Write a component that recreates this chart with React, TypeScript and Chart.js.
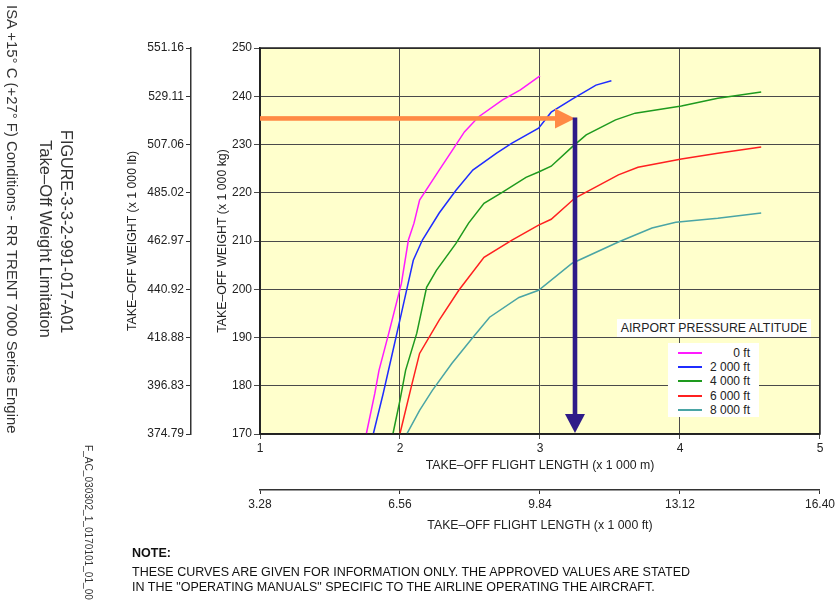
import React, { useEffect, useRef } from "react";
import { Chart, registerables } from "chart.js";

Chart.register(...registerables);

// ---- data ----
const seriesNames = ["0 ft", "2 000 ft", "4 000 ft", "6 000 ft", "8 000 ft"];
const seriesColors = ["#ff1aff", "#1f2cff", "#1e9a1e", "#ff2020", "#4aa5a5"];

const alt0X = [1.76, 1.82, 1.85, 1.92, 2.01, 2.06, 2.10, 2.14, 2.28, 2.39, 2.46, 2.56, 2.73, 2.86, 3.0];
const alt0Y = [170.1, 178.4, 183.2, 190.9, 201.2, 210.2, 213.7, 218.5, 224.7, 229.5, 232.6, 235.7, 239.2, 241.3, 244.2];

const alt2X = [1.81, 1.88, 1.95, 2.01, 2.095, 2.16, 2.28, 2.40, 2.52, 2.69, 2.80, 2.99, 3.08, 3.23, 3.40, 3.51];
const alt2Y = [170.1, 178.4, 187.3, 195.0, 206.0, 210.2, 215.8, 220.5, 224.7, 228.2, 230.3, 233.4, 236.7, 239.4, 242.3, 243.2];

const alt4X = [1.95, 2.0, 2.04, 2.12, 2.19, 2.26, 2.40, 2.49, 2.60, 2.73, 2.90, 2.99, 3.08, 3.23, 3.33, 3.54, 3.68, 4.01, 4.27, 4.58];
const alt4Y = [170.1, 177.0, 183.2, 190.9, 200.4, 203.9, 209.5, 213.7, 217.8, 220.1, 223.2, 224.3, 225.5, 229.5, 232.0, 235.1, 236.5, 238.0, 239.6, 240.9];

const alt6X = [2.0, 2.08, 2.14, 2.28, 2.42, 2.60, 2.80, 2.99, 3.08, 3.25, 3.40, 3.56, 3.70, 4.01, 4.27, 4.58];
const alt6Y = [170.1, 179.7, 186.7, 193.6, 199.8, 206.6, 210.2, 213.3, 214.5, 218.9, 221.2, 223.7, 225.3, 227.0, 228.2, 229.5];

const alt8X = [2.05, 2.14, 2.23, 2.37, 2.52, 2.64, 2.85, 2.99, 3.23, 3.56, 3.80, 3.97, 4.27, 4.58];
const alt8Y = [170.1, 174.9, 179.0, 184.6, 190.0, 194.2, 198.3, 199.8, 205.4, 209.8, 212.7, 213.9, 214.7, 215.8];

const seriesX = [alt0X, alt2X, alt4X, alt6X, alt8X];
const seriesY = [alt0Y, alt2Y, alt4Y, alt6Y, alt8Y];

const kgTicks = [170, 180, 190, 200, 210, 220, 230, 240, 250];
const lbTicks = [374.79, 396.83, 418.88, 440.92, 462.97, 485.02, 507.06, 529.11, 551.16];
const mTicks = [1, 2, 3, 4, 5];
const ftTicks = [3.28, 6.56, 9.84, 13.12, 16.4];

// example reading arrows (data units)
const orangeArrow = { x0: 1, x1: 3.25, y: 235.4 };
const purpleArrow = { x: 3.25, y0: 235.6, y1: 170 };

const FONT = "'Liberation Sans', Arial, Helvetica, sans-serif";
const TXT = "#222";
const GRID = "#4a4a4a";

const plotPlugin = {
  id: "plotDecor",
  beforeDraw(chart: any) {
    const { ctx, chartArea: a } = chart;
    ctx.save();
    ctx.fillStyle = "#ffffcc";
    ctx.fillRect(a.left, a.top, a.right - a.left, a.bottom - a.top);
    ctx.restore();
  },
  afterDatasetsDraw(chart: any) {
    const { ctx, chartArea: a } = chart;
    const xs = chart.scales.x;
    const ys = chart.scales.y;
    ctx.save();
    // border
    ctx.strokeStyle = "#222";
    ctx.lineWidth = 1.5;
    ctx.strokeRect(a.left, a.top, a.right - a.left, a.bottom - a.top);
    // orange arrow
    const oy = ys.getPixelForValue(orangeArrow.y);
    const ox0 = xs.getPixelForValue(orangeArrow.x0);
    const ox1 = xs.getPixelForValue(orangeArrow.x1);
    ctx.fillStyle = "#ff8a45";
    ctx.fillRect(ox0, oy - 2.3, ox1 - 19 - ox0, 4.6);
    ctx.beginPath();
    ctx.moveTo(ox1 - 20, oy - 10);
    ctx.lineTo(ox1, oy);
    ctx.lineTo(ox1 - 20, oy + 10);
    ctx.closePath();
    ctx.fill();
    // purple arrow
    const px = xs.getPixelForValue(purpleArrow.x);
    const py0 = ys.getPixelForValue(purpleArrow.y0);
    const py1 = ys.getPixelForValue(purpleArrow.y1);
    ctx.fillStyle = "#2e1b88";
    ctx.fillRect(px - 2.3, py0, 4.6, py1 - 18 - py0);
    ctx.beginPath();
    ctx.moveTo(px - 10, py1 - 20);
    ctx.lineTo(px + 10, py1 - 20);
    ctx.lineTo(px, py1 - 1);
    ctx.closePath();
    ctx.fill();
    ctx.restore();
  },
};

const setTicks = (vals: number[]) => (scale: any) => {
  scale.ticks = vals.map((v) => ({ value: v }));
};

export default function App() {
  const ref = useRef<HTMLCanvasElement | null>(null);

  useEffect(() => {
    if (!ref.current) return;
    const tickFont = { family: FONT, size: 12 };
    const titleFont = { family: FONT, size: 12.3 };
    const chart = new Chart(ref.current, {
      type: "line",
      data: {
        datasets: seriesNames.map((name, i) => ({
          label: name,
          data: seriesX[i].map((x, j) => ({ x, y: seriesY[i][j] })),
          borderColor: seriesColors[i],
          backgroundColor: seriesColors[i],
          borderWidth: 1.5,
          pointRadius: 0,
          tension: 0,
          xAxisID: "x",
          yAxisID: "y",
        })),
      },
      options: {
        animation: false,
        responsive: false,
        devicePixelRatio: 1,
        layout: { padding: { left: 100, top: 48, right: 16, bottom: 69 } },
        plugins: { legend: { display: false }, tooltip: { enabled: false } },
        scales: {
          x: {
            type: "linear",
            position: "bottom",
            weight: 0,
            min: 1,
            max: 5,
            afterBuildTicks: setTicks(mTicks),
            afterFit: (s: any) => { s.height = 56; },
            ticks: { font: tickFont, color: TXT, padding: 2, callback: (v: any) => String(v) },
            grid: { color: GRID, lineWidth: 1, tickLength: 5, drawTicks: true },
            border: { color: "#222", width: 1.5 },
            title: { display: true, text: "TAKE–OFF FLIGHT LENGTH (x 1 000 m)", font: titleFont, color: TXT, padding: { top: 4, bottom: 17 } },
          },
          xft: {
            type: "linear",
            position: "bottom",
            weight: 1,
            min: 3.28,
            max: 16.4,
            afterBuildTicks: setTicks(ftTicks),
            afterFit: (s: any) => { s.height = 47; },
            ticks: { font: tickFont, color: TXT, padding: 3, callback: (v: any) => Number(v).toFixed(2) },
            grid: { color: "#333", drawOnChartArea: false, tickLength: 4 },
            border: { color: "#333", width: 1.5 },
            title: { display: true, text: "TAKE–OFF FLIGHT LENGTH (x 1 000 ft)", font: titleFont, color: TXT, padding: { top: 4, bottom: 4 } },
          },
          y: {
            type: "linear",
            position: "left",
            weight: 0,
            min: 170,
            max: 250,
            afterBuildTicks: setTicks(kgTicks),
            afterFit: (s: any) => { s.width = 69; },
            ticks: { font: tickFont, color: TXT, padding: 2, callback: (v: any) => String(v) },
            grid: { color: GRID, lineWidth: 1, tickLength: 6 },
            border: { color: "#222", width: 1.5 },
            title: { display: true, text: "TAKE–OFF WEIGHT (x 1 000 kg)", font: titleFont, color: TXT, padding: { top: 24, bottom: 0 } },
          },
          ylb: {
            type: "linear",
            position: "left",
            weight: 1,
            min: 374.79,
            max: 551.16,
            afterBuildTicks: setTicks(lbTicks),
            afterFit: (s: any) => { s.width = 91; },
            ticks: { font: tickFont, color: TXT, padding: 2, callback: (v: any) => Number(v).toFixed(2) },
            grid: { color: "#333", drawOnChartArea: false, tickLength: 5 },
            border: { color: "#333", width: 1.5 },
            title: { display: true, text: "TAKE–OFF WEIGHT (x 1 000 lb)", font: titleFont, color: TXT, padding: { top: 25, bottom: 0 } },
          },
        },
      } as any,
      plugins: [plotPlugin],
    });
    return () => chart.destroy();
  }, []);

  const vText = (text: string, cx: number, top: number, size: number, extra: any = {}) => (
    <div
      style={{
        position: "absolute",
        left: cx - size * 0.6,
        top,
        writingMode: "vertical-rl" as any,
        fontFamily: FONT,
        fontSize: size,
        lineHeight: `${size * 1.2}px`,
        color: "#333",
        whiteSpace: "nowrap",
        ...extra,
      }}
    >
      {text}
    </div>
  );

  return (
    <div style={{ position: "absolute", left: 0, top: 0, width: 838, height: 606, background: "#fff", overflow: "hidden" }}>
      <canvas ref={ref} width={838} height={606} style={{ position: "absolute", left: 0, top: 0, width: 838, height: 606 }} />
      {vText("ISA +15° C (+27° F) Conditions - RR TRENT 7000 Series Engine", 11, 5, 14.9)}
      {vText("Take–Off Weight Limitation", 45, 140, 16.6)}
      {vText("FIGURE-3-3-2-991-017-A01", 66, 130, 16.2)}
      {vText("F_AC_030302_1_0170101_01_00", 88, 445, 10.1)}
      {/* legend */}
      <div style={{ position: "absolute", left: 617, top: 319, width: 194, height: 18, background: "#fff", fontFamily: FONT, fontSize: 12.3, lineHeight: "18px", textAlign: "center", color: TXT }}>
        AIRPORT PRESSURE ALTITUDE
      </div>
      <div style={{ position: "absolute", left: 668, top: 343, width: 91, height: 74, background: "#fff" }}>
        {seriesNames.map((n, i) => (
          <div key={n} style={{ position: "absolute", left: 0, top: 3 + i * 14.2, width: 91, height: 14, fontFamily: FONT, fontSize: 12, lineHeight: "14px", color: TXT }}>
            <div style={{ position: "absolute", left: 10, top: 6, width: 24, height: 2, background: seriesColors[i] }} />
            <div style={{ position: "absolute", right: 9, top: 0, textAlign: "right" }}>{n}</div>
          </div>
        ))}
      </div>
      {/* note */}
      <div style={{ position: "absolute", left: 132, top: 546, fontFamily: FONT, fontSize: 12.5, lineHeight: "15px", color: "#111" }}>
        <div style={{ fontWeight: "bold", marginBottom: 4 }}>NOTE:</div>
        <div>THESE CURVES ARE GIVEN FOR INFORMATION ONLY. THE APPROVED VALUES ARE STATED</div>
        <div>IN THE "OPERATING MANUALS" SPECIFIC TO THE AIRLINE OPERATING THE AIRCRAFT.</div>
      </div>
    </div>
  );
}
